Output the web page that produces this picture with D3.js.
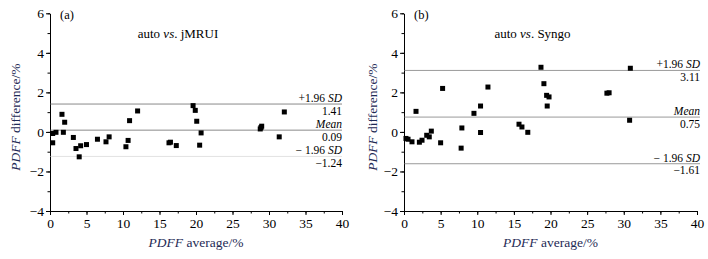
<!DOCTYPE html>
<html>
<head>
<meta charset="utf-8">
<script src="https://cdn.jsdelivr.net/npm/d3@7"></script>
<style>
  body { margin: 0; background: #fff; }
  text { font-family: "Liberation Serif", "DejaVu Serif", serif; }
</style>
</head>
<body>
<div id="chart"></div>
<script>
// panel (a): auto vs. jMRUI
const avgA = [0.37, 0.82, 1.64, 2.01, 1.83, 0.37, 3.2, 3.56, 4.0, 4.2, 5.0, 6.5, 7.67, 8.1,
  10.4, 10.7, 10.9, 12.0, 19.6, 19.9, 20.1, 20.7, 20.5, 16.3, 16.5, 17.3, 28.8, 28.9, 29.0, 31.4, 32.1]
const diffA = [-0.08, -0.02, 0.89, 0.49, -0.02, -0.55, -0.28, -0.84, -1.26, -0.70, -0.64, -0.37, -0.5, -0.25,
  -0.75, -0.43, 0.57, 1.06, 1.33, 1.09, 0.54, -0.05, -0.67, -0.55, -0.52, -0.69, 0.15, 0.22, 0.29, -0.25, 1.01]

// panel (b): auto vs. Syngo
const avgB = [0.27, 0.55, 1.09, 1.64, 2.1, 2.46, 3.1, 3.45, 3.73, 5.0, 5.27, 7.9, 7.8, 9.55, 10.45, 10.45, 11.46,
  18.7, 19.1, 19.47, 19.8, 19.55, 15.7, 16.1, 16.9, 27.7, 28.0, 30.9, 30.8]
const diffB = [-0.33, -0.37, -0.5, 1.04, -0.52, -0.42, -0.17, -0.25, 0.04, -0.55, 2.2, 0.2, -0.82, 0.94, 1.31, -0.03, 2.27,
  3.27, 2.44, 1.85, 1.77, 1.31, 0.39, 0.25, -0.02, 1.96, 1.98, 3.22, 0.59]

// limits of agreement: [+1.96 SD, mean, -1.96 SD]
const limitsA = [1.41, 0.09, -1.24]
const limitsB = [3.11, 0.75, -1.61]

const xTicks = [0, 5, 10, 15, 20, 25, 30, 35, 40]
const yTicks = [-4, -2, 0, 2, 4, 6]

const width = 708
const height = 259

const svg = d3.select('#chart').append('svg')
  .attr('width', width)
  .attr('height', height)

const panels = [
  { tag: '(a)', ref: 'jMRUI', avg: avgA, diff: diffA, limits: limitsA, x0: 50, x1: 342, labelX: 16, lineEnd: 342, textX: 342,
    lineColors: ['#8a8a8a', '#8a8a8a', '#e2e2e2'] },
  { tag: '(b)', ref: 'Syngo', avg: avgB, diff: diffB, limits: limitsB, x0: 404, x1: 697, labelX: 373, lineEnd: 700, textX: 700,
    lineColors: ['#9a9a9a', '#9a9a9a', '#9a9a9a'] }
]

const minus = v => v < 0 ? '\u2212' + Math.abs(v) : v

panels.forEach(p => {
  const x = d3.scaleLinear().domain([0, 40]).range([p.x0, p.x1])
  const y = d3.scaleLinear().domain([-4, 6]).range([211, 13.3])

  const g = svg.append('g')

  // minor ticks
  g.append('g')
    .attr('transform', `translate(0,${y(-4)})`)
    .call(d3.axisBottom(x).tickValues(d3.range(0, 40.1, 2.5)).tickSize(2.5).tickFormat(''))
    .call(a => a.select('.domain').remove())
  g.append('g')
    .attr('transform', `translate(0,${y(-4)})`)
    .call(d3.axisBottom(x).tickValues(xTicks).tickSize(4).tickSizeOuter(0).tickPadding(3))
    .call(a => a.selectAll('text').attr('font-size', 13.5).attr('fill', '#000'))

  g.append('g')
    .attr('transform', `translate(${p.x0},0)`)
    .call(d3.axisLeft(y).tickValues(d3.range(-4, 6.1, 1)).tickSize(2.5).tickFormat(''))
    .call(a => a.select('.domain').remove())
  g.append('g')
    .attr('transform', `translate(${p.x0},0)`)
    .call(d3.axisLeft(y).tickValues(yTicks).tickSize(4).tickSizeOuter(0).tickPadding(2).tickFormat(minus))
    .call(a => a.selectAll('text').attr('font-size', 13.5).attr('fill', '#000'))

  // limit lines
  const names = ['+1.96 ', 'Mean', '\u2212 1.96 ']
  p.limits.forEach((v, i) => {
    g.append('line')
      .attr('x1', p.x0 + 0.5).attr('x2', p.lineEnd)
      .attr('y1', y(v)).attr('y2', y(v))
      .attr('stroke', p.lineColors[i])
      .attr('stroke-width', 1)

    const lbl = g.append('text')
      .attr('x', p.textX).attr('y', y(v) - 2)
      .attr('text-anchor', 'end')
      .attr('font-size', 11.5)
    if (i === 1) {
      lbl.append('tspan').attr('font-style', 'italic').text('Mean')
    } else {
      lbl.append('tspan').text(names[i])
      lbl.append('tspan').attr('font-style', 'italic').text('SD')
    }
    g.append('text')
      .attr('x', p.textX).attr('y', y(v) + 10.5)
      .attr('text-anchor', 'end')
      .attr('font-size', 11.5)
      .text(v < 0 ? '\u2212' + Math.abs(v).toFixed(2) : v.toFixed(2))
  })

  // points
  g.selectAll('rect.pt')
    .data(p.avg.map((a, i) => [a, p.diff[i]]))
    .join('rect')
    .attr('class', 'pt')
    .attr('x', d => x(d[0]) - 2.5)
    .attr('y', d => y(d[1]) - 2.5)
    .attr('width', 5)
    .attr('height', 5)
    .attr('fill', '#000')

  // panel tag and title
  g.append('text')
    .attr('x', p.x0 + 10).attr('y', 19)
    .attr('font-size', 12.5)
    .text(p.tag)

  const title = g.append('text')
    .attr('x', (p.x0 + p.x1) / 2 - 18).attr('y', 38)
    .attr('text-anchor', 'middle')
    .attr('font-size', 13)
  title.append('tspan').text('auto ')
  title.append('tspan').attr('font-style', 'italic').text('vs')
  title.append('tspan').text('. ' + p.ref)

  // axis labels
  const xl = g.append('text')
    .attr('x', (p.x0 + p.x1) / 2).attr('y', 247)
    .attr('text-anchor', 'middle')
    .attr('font-size', 13.5)
    .attr('fill', '#1e2a55')
  xl.append('tspan').attr('font-style', 'italic').text('PDFF')
  xl.append('tspan').text(' average/%')

  const yl = g.append('text')
    .attr('transform', `translate(${p.labelX + 4},${y(1) + 5}) rotate(-90)`)
    .attr('text-anchor', 'middle')
    .attr('font-size', 13.5)
    .attr('fill', '#1e2a55')
  yl.append('tspan').attr('font-style', 'italic').text('PDFF')
  yl.append('tspan').text(' difference/%')
})
</script>
</body>
</html>
